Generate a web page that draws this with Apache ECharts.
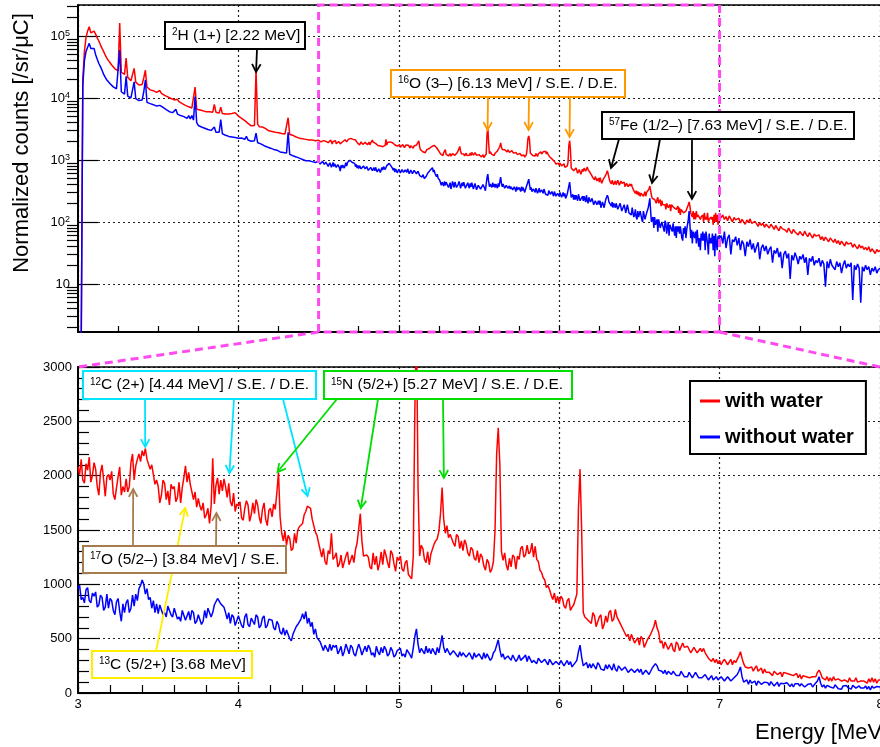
<!DOCTYPE html>
<html><head><meta charset="utf-8">
<script src="https://cdn.jsdelivr.net/npm/echarts@6/dist/echarts.min.js"></script>
<style>html,body{margin:0;padding:0;background:#fff}#c{width:880px;height:747px}</style>
</head><body><div id="c"></div>
<script>
// ---------- DATA ----------
// top panel, 0.00-2.98 MeV, 0.02 MeV bins
const lowStart = 0.00, lowStep = 0.02;
const lowRed = [
1,1,1,20000,56000, 95000,120000,141000,112000,105000,
120000,107000,93000,83000,72000, 63000,56000,49000,44000,40000,
37000,34000,32000,29500,28000, 27500,162000,26000,25000,24000,
44000,21500,20000,19000,20000, 30000,18000,17000,16200,15800,
16500,21000,28000,15000,14000, 13500,13200,13100,12600,12300,
12600,13200,11900,11200,11000, 10500,10400,10000,9800,9500,
9300,9100,9500,8700,8600, 8100,7900,7600,7400,7200,
7100,6900,6900,15000,6600, 6500,6400,6300,6200,6100,
6000,6100,6000,5900,5900, 7900,5900,5700,5700,7100,
5600,5600,5500,5400,5500, 5500,5600,5700,5800,5500,
5100,4900,4700,4600,4300, 4100,3900,3700,3550,3450,
3600,27500,3800,3450,3550, 3400,3300,3200,3000,2950,
2900,2880,2800,2800,2750, 2750,2700,2680,2700,2620,
2650,4800,2570,2650,2500, 2400,2350,2300,2250,2250,
2200,2200,2150,2150,2100, 2100,2100,2050,2050,2000];
const lowBlue = [
1,1,1,16000,40000, 56000,66000,76000,63000,60000,
63000,50000,42000,36000,32000, 28000,24000,21500,19500,18200,
17000,16000,15100,14500,14100, 13800,59000,12600,12000,11500,
22400,10700,10500,10000,10000, 18200,9800,9300,9100,8900,
9300,12600,19500,8500,8300, 8100,7900,7800,7600,7400,
7400,7600,7100,7050,6600, 6500,6300,6000,5900,5800,
5700,6600,5500,5600,5200, 5100,5000,4700,4700,5200,
4600,5200,4400,10500,4000, 3600,3450,3400,3400,3250,
3150,3100,3000,3000,2900, 3400,2800,2750,2800,4500,
2650,2570,2500,2380,2400, 2400,2350,2350,2300,2300,
2250,2250,2260,2200,2150, 2400,2100,2050,2000,2000,
2050,2700,1900,1900,1820, 1780,1700,1660,1620,1530,
1550,1510,1480,1450,1440, 1380,1350,1350,1320,1290,
1290,2800,1230,1230,1170, 1150,1120,1100,1070,1050,
1020,1000,970,980,970, 960,940,960,910,900];

// both panels, 3.00-8.00 MeV, 0.01 MeV bins
const midStart = 3.00, midStep = 0.01;
const midRed = [
2080,2010,2150,1960,1930,2110,2050,2170,1940,2000,
2120,2060,1900,1820,2030,2100,1960,1810,1990,2010,
1960,2040,1830,1780,1890,1990,2080,1820,1900,1850,
1970,1850,1900,2120,2200,1960,2090,2150,2200,2130,
2230,2180,2250,2150,2160,2060,2100,2010,1920,1960,
1900,1750,1820,1960,1930,1780,1860,1730,1920,1880,
1900,1760,1800,1940,1750,1890,1980,2090,1940,2030,
1920,1850,1780,1850,1710,1790,1720,1680,1750,1610,
1640,1700,1560,1720,2160,1740,1910,1980,1830,1960,
1860,1970,1900,1800,1930,1760,1720,1840,1670,1740,
1720,1760,1610,1590,1700,1770,1730,1580,1640,1750,
1650,1780,1730,1620,1560,1690,1750,1600,1540,1680,
1700,1620,1740,1690,1850,2030,1620,1470,1400,1490,
1360,1450,1420,1310,1330,1470,1380,1500,1530,1520,
1560,1640,1670,1720,1720,1700,1600,1590,1480,1450,
1380,1370,1250,1330,1210,1180,1310,1280,1470,1230,
1250,1290,1160,1190,1270,1150,1140,1260,1300,1180,
1190,1270,1200,1320,1380,1510,1650,1400,1260,1250,
1270,1250,1160,1140,1290,1180,1260,1130,1190,1300,
1180,1320,1270,1200,1150,1310,1280,1190,1120,1250,
1220,1260,1140,1120,1200,1220,1090,1070,1050,1250,
2600,3400,1900,1260,1360,1330,1230,1200,1300,1180,
1280,1290,1370,1400,1420,1490,1650,1890,1600,1470,
1540,1430,1460,1450,1380,1350,1460,1440,1330,1400,
1310,1410,1370,1290,1260,1340,1320,1240,1220,1310,
1200,1280,1250,1170,1130,1230,1200,1110,1140,1210,
1500,2200,2440,2100,1300,1220,1290,1180,1130,1240,
1160,1270,1250,1140,1260,1230,1330,1350,1250,1270,
1360,1280,1300,1380,1250,1350,1230,1210,1130,1110,
1060,1040,970,990,950,900,860,920,830,890,
820,890,870,800,780,850,870,760,790,810,
800,910,1700,2060,1500,740,700,700,670,680,
640,740,710,610,620,700,720,590,630,710,
650,740,760,660,680,770,700,710,640,650,
580,580,520,540,480,540,530,460,450,510,
440,520,500,420,430,490,480,540,550,610,
670,600,560,460,480,410,470,460,400,390,
460,400,380,470,450,390,400,460,420,410,
430,440,370,360,420,430,370,360,410,380,
410,370,370,320,330,290,320,280,310,270,
300,260,290,310,300,260,270,310,260,300,
280,310,340,380,320,270,240,240,230,230,
240,200,230,250,200,210,230,180,220,190,
200,190,190,160,200,210,170,160,190,150,
190,180,180,170,170,160,160,150,180,140,
170,130,160,150,150,140,140,140,150,140,
150,190,210,180,140,150,120,150,110,140,
110,150,120,130,130,140,110,120,120,130,
100,140,110,120,110,140,100,110,110,120,
110,120,90,130,100,140,100,130,90,120,
120];
const midBlue = [
960,990,860,880,830,950,970,850,830,920,
890,930,790,810,900,880,760,790,910,780,
870,850,760,720,840,870,750,660,820,740,
830,860,740,780,900,800,910,850,960,990,
1040,1000,910,960,860,880,780,850,740,820,
730,810,820,720,740,700,800,810,720,700,
780,790,680,700,660,760,770,670,680,750,
670,760,740,640,660,720,730,630,660,760,
690,780,790,700,740,810,810,870,880,820,
810,790,740,680,740,640,720,700,620,630,
710,720,620,600,700,730,630,610,690,680,
630,720,700,600,620,690,710,600,620,680,
690,670,600,580,660,630,560,540,600,530,
580,570,500,480,540,550,610,630,630,680,
730,680,750,640,690,610,650,540,590,510,
490,470,430,390,440,430,380,450,390,440,
420,440,360,390,430,340,380,450,410,360,
440,420,360,340,400,450,410,350,360,430,
380,440,410,350,370,330,430,380,350,420,
370,430,400,340,360,420,390,330,350,390,
400,410,340,360,330,400,390,350,320,410,
520,590,450,370,410,400,360,430,370,410,
360,410,400,350,420,370,450,530,420,370,
410,400,350,340,390,400,350,330,380,340,
370,380,330,320,370,340,310,370,330,340,
360,350,310,370,320,360,350,300,320,370,
390,440,490,400,330,360,310,300,340,330,
300,350,340,290,310,350,300,290,330,350,
290,340,330,280,300,290,270,320,310,280,
270,310,300,260,310,300,260,250,290,300,
260,300,290,250,240,300,260,290,240,250,
280,300,380,440,330,250,260,280,230,270,
230,270,260,220,280,260,220,230,210,260,
220,260,250,210,270,220,200,250,240,210,
200,240,230,190,180,220,230,190,180,220,
190,220,170,180,210,220,170,180,230,240,
270,250,210,210,200,180,210,170,200,190,
170,200,200,160,170,160,200,190,150,160,
150,190,180,140,150,190,180,140,150,140,
130,170,160,120,130,160,120,110,150,120,
120,150,140,110,100,150,140,110,110,140,
130,170,200,240,150,100,110,120,80,120,
90,100,110,70,110,115,80,75,100,95,
95,70,105,95,65,80,100,60,90,85,
85,70,95,90,60,85,55,85,70,85,
65,85,80,55,50,80,65,85,55,75,
80,110,150,90,55,75,45,70,65,55,
70,45,75,70,40,55,35,65,50,70,
50,65,35,70,65,45,30,65,45,55,
45,65,35,60,28,65,45,35,60,50,
55];

// top panel, 8.02-10.00 MeV, 0.02 MeV bins
const highStart = 8.02, highStep = 0.02;
const highRed = [
118,130,110,122,105,125,112,100,118,108,
104,115,96,110,100,92,108,98,112,95,
90,102,94,85,98,88,96,82,92,86,
80,92,84,76,88,79,72,85,78,82,
74,68,80,71,65,76,69,73,62,70,
66,60,71,63,58,67,61,55,64,59,
56,62,52,58,50,57,53,48,55,51,
47,53,45,50,43,49,46,41,48,44,
42,46,39,44,40,37,43,38,41,36,
39,35,40,33,37,34,31,36,33,35];
const highBlue = [
60,45,70,38,55,62,30,52,48,58,
42,55,35,50,44,28,48,40,52,36,
45,32,40,47,25,38,43,34,41,30,
36,40,22,35,31,38,27,33,18,30,
34,26,31,12,29,24,32,27,21,28,
25,30,22,27,14,26,23,28,20,24,
22,26,19,24,21,9,23,18,25,20,
21,17,23,19,22,15,20,24,18,21,
19,22,5.5,20,17,21,18,5,19,16,
20,17,19,14,18,16,19,15,17,18];

const seriesNames = ['with water', 'without water'];
const seriesColors = ['#ff0000', '#0000ff'];
const topAxisRange = [0, 10];
const topCountRange = [1.68, 316000];
const bottomAxisRange = [3, 8];
const bottomCountRange = [0, 3000];
const zoomRange = [3, 8];

// ---------- BUILD ----------
function bins(start, step, vals) {
  return vals.map((v, i) => [+(start + i * step).toFixed(3), v]);
}
const topRed = bins(lowStart, lowStep, lowRed).concat(bins(midStart, midStep, midRed), bins(highStart, highStep, highRed));
const topBlue = bins(lowStart, lowStep, lowBlue).concat(bins(midStart, midStep, midBlue), bins(highStart, highStep, highBlue));
const botRed = bins(midStart, midStep, midRed);
const botBlue = bins(midStart, midStep, midBlue);

const FONT = '"Liberation Sans", Arial, Helvetica, sans-serif';
const dotted = { show: true, lineStyle: { color: '#222', type: [2, 3], width: 1.2 } };
const lg0 = Math.log10(topCountRange[0]), lg1 = Math.log10(topCountRange[1]);
const minorLog = [];
for (let d = 0; d <= 5; d++) for (let m = 2; m <= 9; m++) {
  const v = d + Math.log10(m);
  if (v > lg0 && v < lg1) minorLog.push(v);
}

const chart = echarts.init(document.getElementById('c'));
function lineSeries(name, color, xi, yi, data) {
  return { name, type: 'line', xAxisIndex: xi, yAxisIndex: yi, data, showSymbol: false, symbol: 'none',
    lineStyle: { color, width: 1.5 }, itemStyle: { color }, animation: false, clip: true };
}
const axisBlack = { show: true, lineStyle: { color: '#000', width: 2 } };

chart.setOption({
  animation: false,
  backgroundColor: '#fff',
  grid: [
    { left: 78, top: 5, width: 802, height: 327, containLabel: false, outerBoundsMode: 'none' },
    { left: 78, top: 367, width: 802, height: 326, containLabel: false, outerBoundsMode: 'none' }
  ],
  xAxis: [
    { type: 'value', gridIndex: 0, min: topAxisRange[0], max: topAxisRange[1], interval: 2,
      axisLine: axisBlack, axisLabel: { show: false },
      axisTick: { show: true, inside: true, length: 6, lineStyle: { color: '#000', width: 1.2 } },
      minorTick: { show: true, splitNumber: 4, length: 6, lineStyle: { color: '#000', width: 1.2 } },
      splitLine: dotted },
    { type: 'value', gridIndex: 1, min: bottomAxisRange[0], max: bottomAxisRange[1], interval: 1,
      axisLine: axisBlack,
      axisLabel: { show: true, color: '#000', fontFamily: FONT, fontSize: 13, margin: 5 },
      axisTick: { show: true, inside: true, length: 8, lineStyle: { color: '#000', width: 1.2 } },
      minorTick: { show: true, splitNumber: 5, length: 8, lineStyle: { color: '#000', width: 1.2 } },
      splitLine: dotted },
    { type: 'value', gridIndex: 0, position: 'top', min: 0, max: 1,
      axisLine: { show: true, lineStyle: { color: '#000', width: 1.5 } },
      axisTick: { show: false }, axisLabel: { show: false }, splitLine: { show: false } },
    { type: 'value', gridIndex: 1, position: 'top', min: 0, max: 1,
      axisLine: { show: true, lineStyle: { color: '#000', width: 1.5 } },
      axisTick: { show: false }, axisLabel: { show: false }, splitLine: { show: false } }
  ],
  yAxis: [
    { type: 'log', logBase: 10, gridIndex: 0, min: topCountRange[0], max: topCountRange[1],
      axisLine: axisBlack,
      axisTick: { show: true, inside: true, length: 20, lineStyle: { color: '#000', width: 1.2 } },
      axisLabel: { show: true, color: '#000', fontFamily: FONT, fontSize: 13, margin: 8,
        showMinLabel: false, showMaxLabel: false,
        formatter: v => { const n = Math.round(Math.log10(v)); return n === 1 ? '10' : '10{sup|' + n + '}'; },
        rich: { sup: { fontSize: 9, fontFamily: FONT, color: '#000', verticalAlign: 'top', lineHeight: 10 } } },
      splitLine: dotted },
    { type: 'value', gridIndex: 0, min: lg0, max: lg1,
      axisLine: { show: false }, axisLabel: { show: false }, splitLine: { show: false },
      axisTick: { show: true, inside: true, length: 11, customValues: minorLog, lineStyle: { color: '#000', width: 1.2 } } },
    { type: 'value', gridIndex: 1, min: bottomCountRange[0], max: bottomCountRange[1], interval: 500,
      axisLine: axisBlack,
      axisTick: { show: true, inside: true, length: 22, lineStyle: { color: '#000', width: 1.2 } },
      minorTick: { show: true, splitNumber: 5, length: 11, lineStyle: { color: '#000', width: 1.2 } },
      axisLabel: { show: true, color: '#000', fontFamily: FONT, fontSize: 13, margin: 6, formatter: v => String(v) },
      splitLine: dotted }
  ],
  legend: {
    data: seriesNames, orient: 'vertical', left: 690, top: 381, padding: [10, 12, 7, 10],
    itemGap: 16, itemWidth: 20, itemHeight: 3, icon: 'rect',
    borderColor: '#000', borderWidth: 2, borderRadius: 0, backgroundColor: '#fff',
    selectedMode: false,
    textStyle: { fontFamily: FONT, fontSize: 20, fontWeight: 'bold', color: '#000' }
  },
  series: [
    lineSeries(seriesNames[0], seriesColors[0], 0, 0, topRed),
    lineSeries(seriesNames[1], seriesColors[1], 0, 0, topBlue),
    lineSeries(seriesNames[0], seriesColors[0], 1, 2, botRed),
    lineSeries(seriesNames[1], seriesColors[1], 1, 2, botBlue)
  ]
});

// ---------- ANNOTATIONS ----------
const TOP = { xAxisIndex: 0, yAxisIndex: 0 };
const BOT = { xAxisIndex: 1, yAxisIndex: 2 };
const notes = [
  { ax: TOP, box: [165, 22, 140, 27], color: '#000', text: '{s|2}H (1+) [2.22 MeV]',
    arrows: [[[257, 49], [2.22, 26300]]] },
  { ax: TOP, box: [391, 70, 234, 27], color: '#ff9900', text: '{s|16}O (3–) [6.13 MeV] / S.E. / D.E.',
    arrows: [[[488, 97], [5.107, 3050]], [[529, 97], [5.618, 3050]], [[570, 97], [6.129, 2350]]] },
  { ax: TOP, box: [602, 112, 252, 27], color: '#000', text: '{s|57}Fe (1/2–) [7.63 MeV] / S.E. / D.E.',
    arrows: [[[619, 139], [6.646, 743]], [[660, 139], [7.157, 426]], [[692, 139], [7.655, 235]]] },
  { ax: BOT, box: [83, 371, 233, 28], color: '#00e5ff', text: '{s|12}C (2+) [4.44 MeV] / S.E. / D.E.',
    arrows: [[[145, 399], [3.419, 2264]], [[234, 399], [3.944, 2024]], [[283, 399], [4.431, 1813]]] },
  { ax: BOT, box: [324, 371, 248, 28], color: '#00dd00', text: '{s|15}N (5/2+) [5.27 MeV] / S.E. / D.E.',
    arrows: [[[337, 399], [4.244, 2034]], [[378, 399], [4.763, 1702]], [[443, 399], [5.281, 1979]]] },
  { ax: BOT, box: [83, 546, 203, 27], color: '#a67c4e', text: '{s|17}O (5/2–) [3.84 MeV] / S.E.',
    arrows: [[[133, 546], [3.344, 1877]], [[216, 546], [3.863, 1656]]] },
  { ax: BOT, box: [92, 651, 160, 27], color: '#ffee00', text: '{s|13}C (5/2+) [3.68 MeV]',
    arrows: [[[156, 651], [3.669, 1702]]] }
];

const g = [];
const MAG = '#ff4af0';
const pTL = chart.convertToPixel(TOP, [zoomRange[0], topCountRange[1]]);
const pBR = chart.convertToPixel(TOP, [zoomRange[1], topCountRange[0]]);
const bL = chart.convertToPixel(BOT, [zoomRange[0], bottomCountRange[1]]);
const bR = chart.convertToPixel(BOT, [zoomRange[1], bottomCountRange[1]]);
const magStyle = { stroke: MAG, lineWidth: 3, lineDash: [8, 5], fill: null };
g.push({ type: 'polyline', z: 100, shape: { points: [[pTL[0], pBR[1]], [pTL[0], pTL[1]], [pBR[0], pTL[1]], [pBR[0], pBR[1]], [pTL[0], pBR[1]]] }, style: magStyle });
g.push({ type: 'line', z: 100, shape: { x1: pTL[0], y1: pBR[1], x2: bL[0], y2: bL[1] }, style: magStyle });
g.push({ type: 'line', z: 100, shape: { x1: pBR[0], y1: pBR[1], x2: bR[0], y2: bR[1] }, style: magStyle });

notes.forEach(n => {
  const [bx, by, bw, bh] = n.box;
  n.arrows.forEach(([from, toData]) => {
    const to = chart.convertToPixel(n.ax, toData);
    g.push({ type: 'line', z: 101, shape: { x1: from[0], y1: from[1], x2: to[0], y2: to[1] },
      style: { stroke: n.color, lineWidth: 1.8 } });
    const a = Math.atan2(to[1] - from[1], to[0] - from[0]);
    const L = 9, s = 0.5;
    g.push({ type: 'polyline', z: 101, shape: { points: [
      [to[0] - L * Math.cos(a - s), to[1] - L * Math.sin(a - s)], to,
      [to[0] - L * Math.cos(a + s), to[1] - L * Math.sin(a + s)]] },
      style: { stroke: n.color, lineWidth: 1.8, fill: null } });
  });
  g.push({ type: 'rect', z: 102, shape: { x: bx, y: by, width: bw, height: bh },
    style: { fill: '#fff', stroke: n.color, lineWidth: 2 } });
  g.push({ type: 'text', z: 103, x: bx + 7, y: by + bh / 2,
    style: { text: n.text, fontFamily: FONT, fontSize: 15.5, fill: '#000', verticalAlign: 'middle', align: 'left',
      rich: { s: { fontSize: 10, fontFamily: FONT, fill: '#000', verticalAlign: 'top', lineHeight: 11 } } } });
});

g.push({ type: 'text', z: 103, x: 22, y: 143, rotation: Math.PI / 2,
  style: { text: 'Normalized counts [/sr/μC]', fontFamily: FONT, fontSize: 22, fill: '#000', align: 'center', verticalAlign: 'middle' } });
g.push({ type: 'text', z: 103, x: 755, y: 733,
  style: { text: 'Energy [MeV]', fontFamily: FONT, fontSize: 22, fill: '#000', align: 'left', verticalAlign: 'middle' } });

chart.setOption({ graphic: g });
</script>
</body></html>
